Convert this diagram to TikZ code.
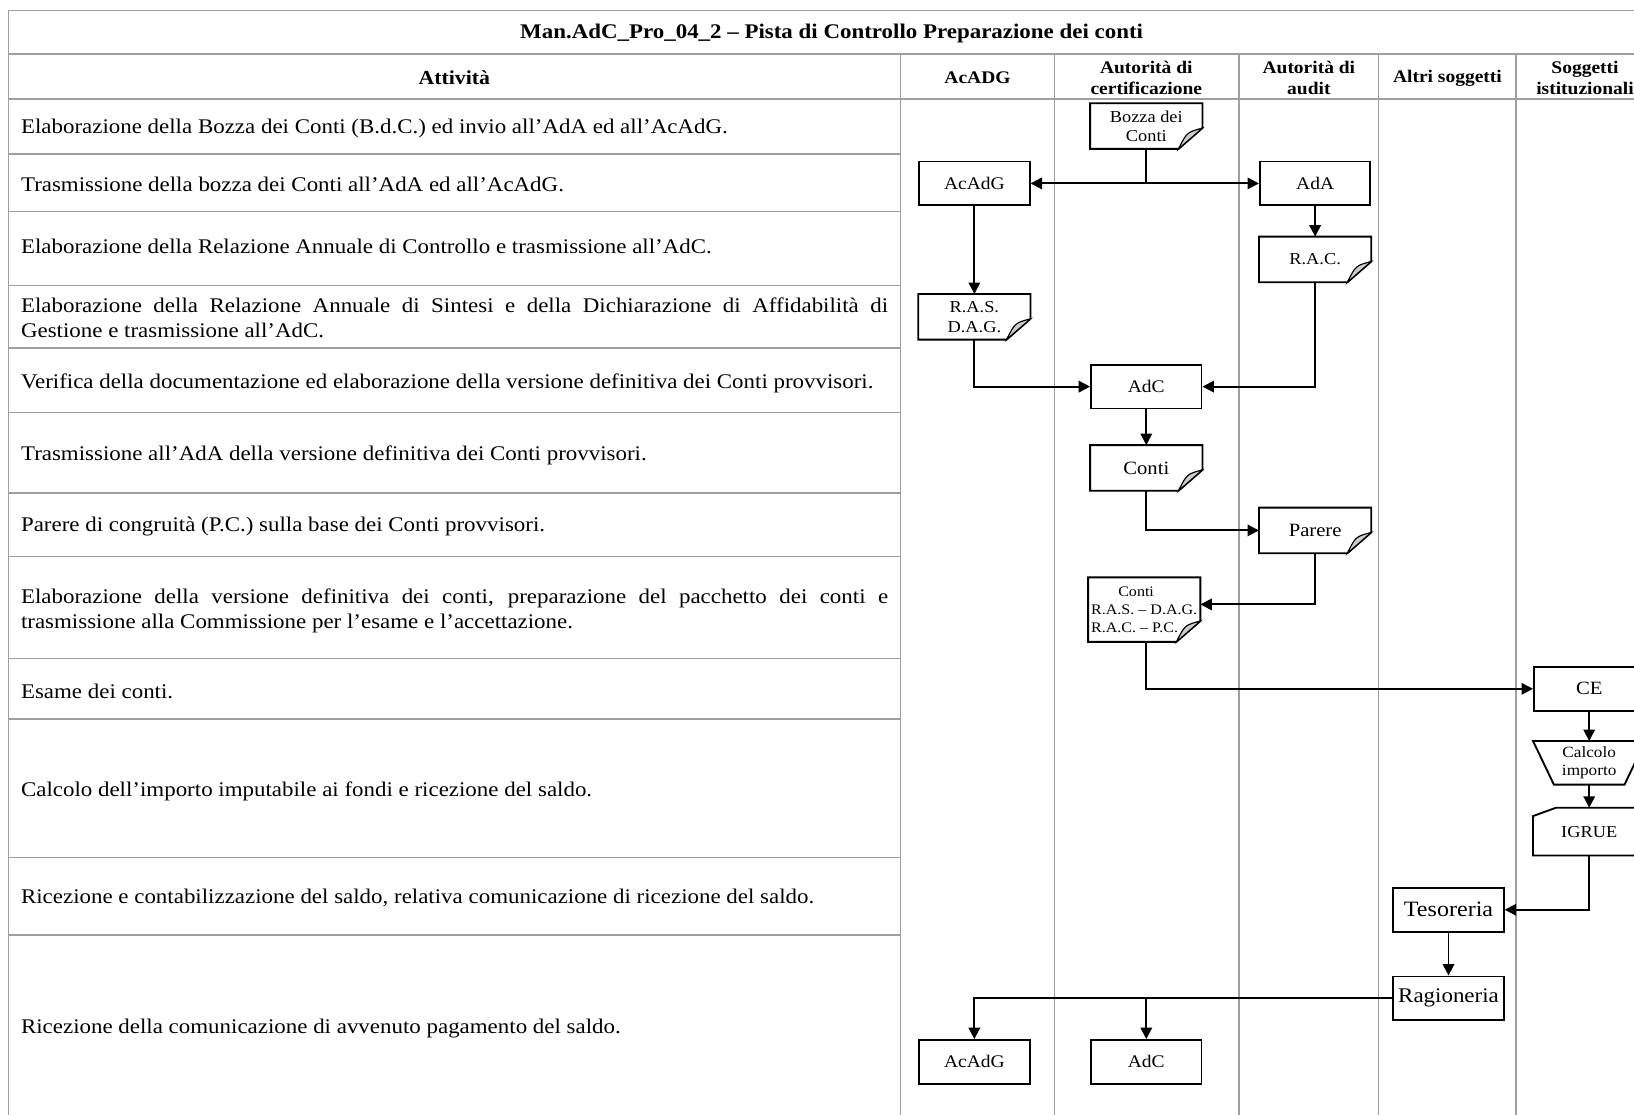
\documentclass[tikz,border=0pt]{standalone}
\usepackage{fontspec}
\setmainfont{Liberation Serif}[FakeStretch=1.1]
\usetikzlibrary{arrows.meta}
\hyphenpenalty=10000
\exhyphenpenalty=10000
\newcommand\docframe[1]{%
  \draw[boxline] (#1.north west) -- (#1.north east) -- ([yshift=20pt]#1.south east) -- ([xshift=-23pt]#1.south east) -- (#1.south west) -- cycle;
  \filldraw[foldst] ([yshift=20pt]#1.south east) .. controls ([xshift=-15pt,yshift=16pt]#1.south east) .. ([xshift=-23pt]#1.south east) -- cycle;}
\newcommand\cardframe[1]{%
  \draw[boxline] ([yshift=-8pt]#1.north west) -- ([xshift=22pt]#1.north west) -- (#1.north east) -- (#1.south east) -- (#1.south west) -- cycle;}
\newcommand\trapframe[1]{%
  \draw[boxline] (#1.north west) -- (#1.north east) -- ([xshift=-20pt]#1.south east) -- ([xshift=20pt]#1.south west) -- cycle;}
\begin{document}
\begin{tikzpicture}[x=1pt,y=-1pt,
  tablerule/.style={draw=gray!75, line width=1.5pt},
  boxline/.style={draw=black, line width=1.8pt, line join=miter},
  foldst/.style={fill=gray!40, draw=black, line width=1.1pt},
  conn/.style={draw=black, line width=1.8pt},
  arr/.style={conn, -{Triangle[length=11pt,width=11pt]}},
  dbl/.style={conn, {Triangle[length=11pt,width=11pt]}-{Triangle[length=11pt,width=11pt]}},
  acttext/.style={anchor=west, inner sep=0pt, font=\fontsize{20}{24}\selectfont},
  acttwo/.style={acttext, text width=832pt, align=justify, execute at begin node={\hyphenpenalty=10000\relax}},
  hdr/.style={inner sep=0pt, align=center, font=\bfseries\fontsize{17}{20}\selectfont},
  flowbox/.style={draw=black, line width=1.8pt, minimum width=106pt, minimum height=42pt, inner sep=0pt, align=center, font=\fontsize{17}{19}\selectfont},
  shell/.style={flowbox, draw=none},
]
\path[use as bounding box] (0,0) rectangle (1568,1069);
\clip (0,0) rectangle (1568,1069);
\fill[white] (0,0) rectangle (1568,1069);

% table
\draw[tablerule] (8,10) -- (1590,10);
\draw[tablerule] (8,52) -- (1590,52);
\draw[tablerule] (8,95) -- (1590,95);
\draw[tablerule] (8,10) -- (8,1080);
\draw[tablerule] (1588,10) -- (1588,1080);
\foreach \cx in {864,1012,1189,1323,1455} \draw[tablerule] (\cx,52) -- (\cx,1080);
\foreach \ry in {148,203,274,334,396,473,534,632,690,823,897} \draw[tablerule] (8,\ry) -- (864,\ry);

% title and headers
\node[hdr, font=\bfseries\fontsize{20}{24}\selectfont] (title) at (798,32) {Man.AdC\_Pro\_04\_2 – Pista di Controllo Preparazione dei conti};
\node[hdr, font=\bfseries\fontsize{19}{24}\selectfont] (hatt) at (436,75) {Attività};
\node[hdr] (hacadg) at (938,75) {AcADG};
\node[hdr] (hcert) at (1100,75) {Autorità di\\certificazione};
\node[hdr] (haudit) at (1256,75) {Autorità di\\audit};
\node[hdr] (haltri) at (1389,75) {Altri soggetti};
\node[hdr] (hsogg) at (1521,75) {Soggetti\\istituzionali};

% activities
\node[acttext] (r1) at (20,123) {Elaborazione della Bozza dei Conti (B.d.C.) ed invio all’AdA ed all’AcAdG.};
\node[acttext] (r2) at (20,177) {Trasmissione della bozza dei Conti all’AdA ed all’AcAdG.};
\node[acttext] (r3) at (20,236) {Elaborazione della Relazione Annuale di Controllo e trasmissione all’AdC.};
\node[acttwo] (r4) at (20,305) {Elaborazione della Relazione Annuale di Sintesi e della Dichiarazione di Affidabilità di Gestione e trasmissione all’AdC.};
\node[acttext] (r5) at (20,368) {Verifica della documentazione ed elaborazione della versione definitiva dei Conti provvisori.};
\node[acttext] (r6) at (20,437) {Trasmissione all’AdA della versione definitiva dei Conti provvisori.};
\node[acttext] (r7) at (20,505) {Parere di congruità (P.C.) sulla base dei Conti provvisori.};
\node[acttwo] (r8) at (20,586) {Elaborazione della versione definitiva dei conti, preparazione del pacchetto dei conti e trasmissione alla Commissione per l’esame e l’accettazione.};
\node[acttext] (r9) at (20,663) {Esame dei conti.};
\node[acttext] (r10) at (20,759) {Calcolo dell’importo imputabile ai fondi e ricezione del saldo.};
\node[acttext] (r11) at (20,862) {Ricezione e contabilizzazione del saldo, relativa comunicazione di ricezione del saldo.};
\node[acttext] (r12) at (20,987) {Ricezione della comunicazione di avvenuto pagamento del saldo.};

% flow nodes
\node[shell, font=\fontsize{16}{18}\selectfont] (bozza) at (1100,121) {Bozza dei\\Conti}; \docframe{bozza}
\node[flowbox] (acadgA) at (935,176) {AcAdG};
\node[flowbox] (adaA) at (1262,176) {AdA};
\node[shell, font=\fontsize{16}{19}\selectfont] (rac) at (1262,249) {R.A.C.}; \docframe{rac}
\node[shell, font=\fontsize{16}{19}\selectfont] (ras) at (935,304) {R.A.S.\\D.A.G.}; \docframe{ras}
\node[flowbox] (adcA) at (1100,371) {AdC};
\node[shell, font=\fontsize{18}{20}\selectfont] (conti) at (1100,449) {Conti}; \docframe{conti}
\node[shell, font=\fontsize{18}{20}\selectfont] (parere) at (1262,509) {Parere}; \docframe{parere}
\node[shell, minimum height=60pt, align=left, font=\fontsize{14}{17}\selectfont] (pack) at (1098,585) {\hspace*{26pt}Conti\\R.A.S. – D.A.G.\\R.A.C. – P.C.}; \docframe{pack}
\node[flowbox, font=\fontsize{18}{20}\selectfont] (ce) at (1525,661) {CE};
\node[shell, minimum height=40pt, font=\fontsize{15}{18}\selectfont] (calc) at (1525,732) {Calcolo\\importo}; \trapframe{calc}
\node[shell, minimum height=44pt, font=\fontsize{16}{19}\selectfont] (igrue) at (1525,798) {IGRUE}; \cardframe{igrue}
\node[flowbox, font=\fontsize{21}{24}\selectfont] (tes) at (1390,873) {Tesoreria};
\node[flowbox, font=\fontsize{20}{24}\selectfont] (rag) at (1390,958) {Ragioneria};
\node[flowbox] (acadgB) at (935,1019) {AcAdG};
\node[flowbox] (adcB) at (1100,1019) {AdC};

% connectors
\draw[conn] (bozza.south) -- (bozza.south |- acadgA.east);
\draw[dbl] (acadgA.east) -- (adaA.west);
\draw[arr] (adaA) -- (rac);
\draw[arr] (acadgA) -- (ras);
\draw[arr] (ras.south) |- (adcA.west);
\draw[arr] (rac.south) |- (adcA.east);
\draw[arr] (adcA) -- (conti);
\draw[arr] (conti.south) |- (parere.west);
\draw[arr] (parere.south) |- ([yshift=5pt]pack.east);
\draw[arr] ([xshift=2pt]pack.south) |- (ce.west);
\draw[arr] (ce) -- (calc);
\draw[arr] (calc) -- (igrue);
\draw[arr] (igrue.south) |- (tes.east);
\draw[arr] (tes) -- (rag);
\draw[arr] (rag.west) -| (acadgB.north);
\draw[arr] (adcB.north |- rag.west) -- (adcB.north);
\end{tikzpicture}
\end{document}
